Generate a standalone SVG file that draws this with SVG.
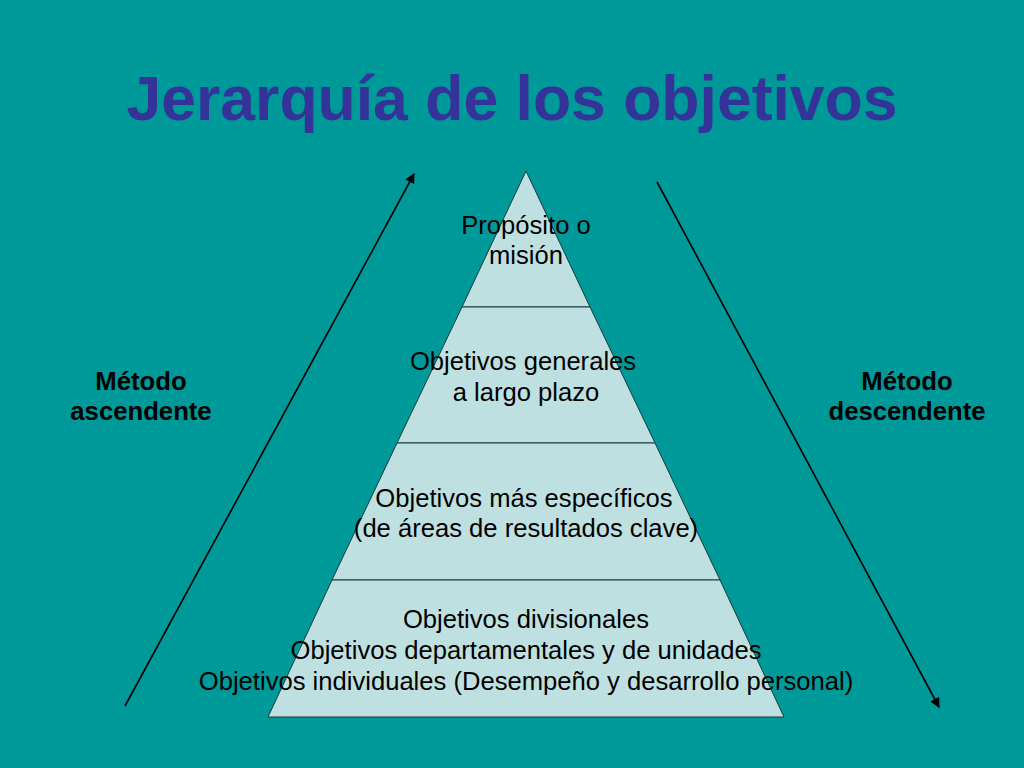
<svg xmlns="http://www.w3.org/2000/svg" width="1024" height="768" viewBox="0 0 1024 768">
<defs>
<style>
.title{font-family:"Liberation Sans",Arial,sans-serif;font-weight:bold;font-size:62.5px;fill:#333399;text-anchor:middle}
.lvl{font-family:"Liberation Sans",Arial,sans-serif;font-size:25.6px;fill:#000;text-anchor:middle}
.side{font-family:"Liberation Sans",Arial,sans-serif;font-weight:bold;font-size:25.7px;fill:#000;text-anchor:middle}
.tier{fill:#BFE0E1;stroke:#1a3a3a;stroke-width:1}
.conn{stroke:#000;stroke-width:1.6;fill:none;marker-end:url(#ah)}
</style>
<marker id="ah" markerWidth="10" markerHeight="10" refX="9" refY="5" orient="auto" markerUnits="userSpaceOnUse">
<path d="M0,0 L10,5 L0,10 Z" fill="#000"/>
</marker>
</defs>
<rect width="1024" height="768" fill="#009999"/>
<text class="title" x="512" y="120">Jerarquía de los objetivos</text>
<g id="pyramid">
<g id="tier1">
<polygon class="tier" points="526,171 590,307 462,307"/>
<text class="lvl" x="526" y="234">Propósito o</text>
<text class="lvl" x="526" y="264">misión</text>
</g>
<g id="tier2">
<polygon class="tier" points="462,307 590,307 655,443 397,443"/>
<text class="lvl" x="523" y="370">Objetivos generales</text>
<text class="lvl" x="526" y="401">a largo plazo</text>
</g>
<g id="tier3">
<polygon class="tier" points="397,443 655,443 720,580 332,580"/>
<text class="lvl" x="524" y="507">Objetivos más específicos</text>
<text class="lvl" x="526" y="537">(de áreas de resultados clave)</text>
</g>
<g id="tier4">
<polygon class="tier" points="332,580 720,580 784,717 268,717"/>
<text class="lvl" x="526" y="628">Objetivos divisionales</text>
<text class="lvl" x="526" y="659">Objetivos departamentales y de unidades</text>
<text class="lvl" x="526" y="690">Objetivos individuales (Desempeño y desarrollo personal)</text>
</g>
</g>
<g id="label-asc">
<text class="side" x="141" y="390">Método</text>
<text class="side" x="141" y="420">ascendente</text>
</g>
<g id="label-desc">
<text class="side" x="907" y="390">Método</text>
<text class="side" x="907" y="420">descendente</text>
</g>
<g id="connectors">
<line class="conn" x1="125" y1="706" x2="414" y2="174"/>
<line class="conn" x1="657" y1="182" x2="939" y2="707"/>
</g>
</svg>
